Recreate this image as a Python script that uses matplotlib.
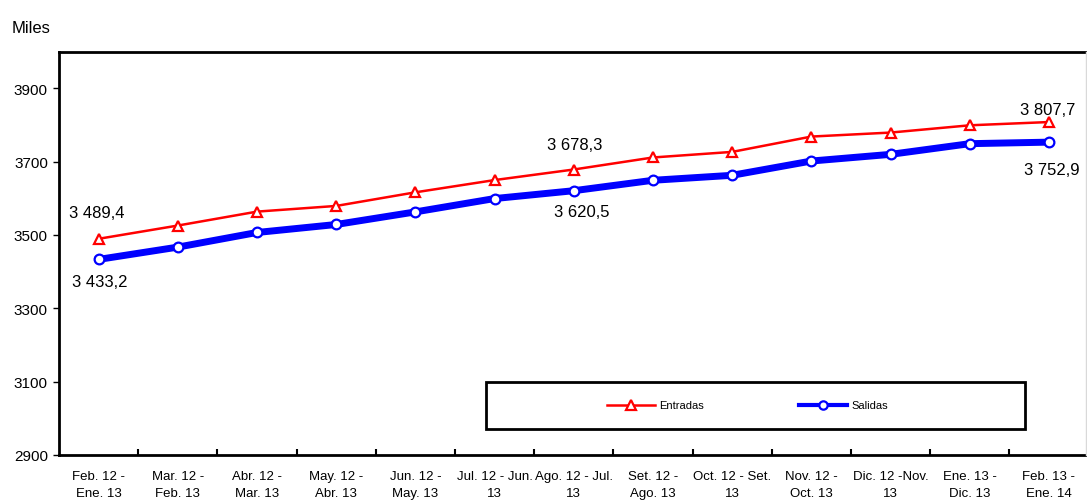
import matplotlib
matplotlib.use("Agg")
import matplotlib.pyplot as plt
from matplotlib.patches import Rectangle

plt.rcParams['font.family'] = ['Liberation Sans', 'DejaVu Sans']

periodos = ["Feb. 12 -\nEne. 13", "Mar. 12 -\nFeb. 13", "Abr. 12 -\nMar. 13",
            "May. 12 -\nAbr. 13", "Jun. 12 -\nMay. 13", "Jul. 12 - Jun.\n13",
            "Ago. 12 - Jul.\n13", "Set. 12 -\nAgo. 13", "Oct. 12 - Set.\n13",
            "Nov. 12 -\nOct. 13", "Dic. 12 -Nov.\n13", "Ene. 13 -\nDic. 13",
            "Feb. 13 -\nEne. 14"]
entradas = [3489.4, 3525.5, 3563.5, 3579.0, 3616.1, 3649.5, 3678.3,
            3711.1, 3726.3, 3768.1, 3779.0, 3798.8, 3807.7]
salidas = [3433.2, 3466.7, 3506.6, 3528.4, 3562.7, 3599.1, 3620.5,
           3648.9, 3662.5, 3701.4, 3719.6, 3748.7, 3752.9]
yticks = [2900, 3100, 3300, 3500, 3700, 3900]

W, H = 1087, 502
fig = plt.figure(figsize=(W / 100, H / 100), dpi=100)
# axes box in pixels: left 59, right 1088.5, top 52.5, bottom 456
ax = fig.add_axes([59 / W, (H - 456) / H, 1029.5 / W, 403.5 / H])

x = list(range(len(periodos)))
ax.plot(x, entradas, color='#ff0000', lw=1.8, marker='^', ms=7,
        mfc='white', mec='#ff0000', mew=1.6, label='Entradas', zorder=3)
ax.plot(x, salidas, color='#0000ff', lw=5, marker='o', ms=7,
        mfc='white', mec='#0000ff', mew=1.6, label='Salidas', zorder=3)

ax.set_xlim(-0.5, len(periodos) - 0.5)
ax.set_ylim(2900, 4000)
ax.set_yticks(yticks)
ax.set_xticks(x)
ax.set_xticklabels(periodos, fontsize=9.5, linespacing=1.55)
ax.set_xticks([i + 0.5 for i in x[:-1]], minor=True)
ax.tick_params(axis='x', which='major', length=0, pad=11)
ax.tick_params(axis='x', which='minor', direction='in', length=4, width=1.5)
ax.tick_params(axis='y', direction='out', length=4, width=1, labelsize=11, pad=4)

for s in ['left', 'bottom', 'top']:
    ax.spines[s].set_linewidth(2)
ax.spines['right'].set_visible(False)

# data labels
etiquetas = [
    (0, entradas[0], (-2, 26)), (6, entradas[6], (1, 25)), (12, entradas[12], (-1, 13)),
    (0, salidas[0], (1, -22)), (6, salidas[6], (8, -21)), (12, salidas[12], (3, -27)),
]
for i, v, off in etiquetas:
    txt = "{:,.1f}".format(v).replace(",", " ").replace(".", ",")
    ax.annotate(txt, (i, v), xytext=off, textcoords='offset pixels',
                ha='center', va='center', fontsize=12)

# legend box
ax.add_patch(Rectangle((0.4148, 0.0644), 0.5235, 0.1166, transform=ax.transAxes,
                       fill=True, facecolor='white', edgecolor='black', lw=2, zorder=4))
leg = ax.legend(loc='center', bbox_to_anchor=(0.6688, 0.1227), ncol=2, frameon=False,
                handlelength=4.3, handletextpad=0.4, columnspacing=8.5,
                prop={'size': 8})
leg.set_zorder(5)
leg.get_lines()[1].set_linewidth(3)
leg.get_lines()[1].set_markersize(6)

fig.text(12 / W, 1 - 29 / H, "Miles", fontsize=12, va='center', ha='left')
fig.add_artist(plt.Line2D([1085.5 / W] * 2, [(H - 456) / H, 1 - 52.5 / H],
                          color='#d9d9d9', lw=1))

fig.savefig("out.png", dpi=100)
